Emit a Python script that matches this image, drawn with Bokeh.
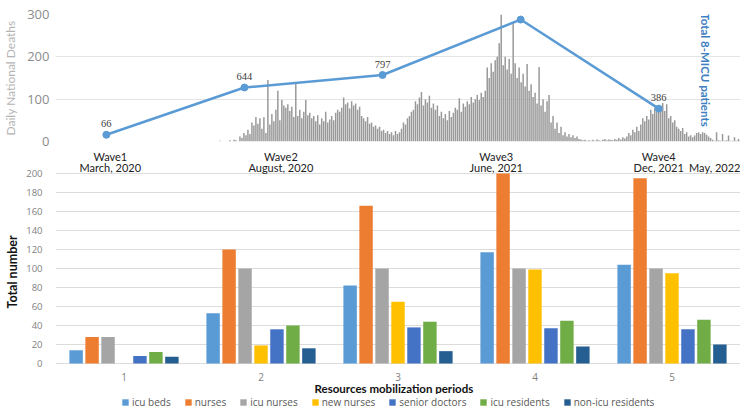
import math
from bokeh.plotting import figure
from bokeh.models import (Range1d, FixedTicker, Label, LabelSet, ColumnDataSource,
                          Legend, LegendItem)
from bokeh.core.properties import value
from bokeh.layouts import column
from bokeh.transform import dodge
from bokeh.embed import file_html
from bokeh.resources import INLINE

# ---------------- data ----------------
waves = [1, 2, 3, 4, 5]
micu_patients = [66, 644, 797, 1475, 386]
micu_labels = ["66", "644", "797", "1 475", "386"]

daily_deaths = [
    0, 0, 2, 0, 0, 0, 0, 3, 0, 4,
    3, 0, 12, 8, 20, 15, 28, 18, 45, 38,
    58, 42, 55, 30, 57, 20, 145, 40, 65, 48,
    75, 120, 50, 98, 85, 80, 88, 72, 82, 58,
    139, 60, 75, 55, 70, 98, 62, 68, 55, 60,
    48, 62, 40, 55, 48, 70, 45, 52, 60, 50,
    68, 75, 70, 80, 104, 88, 92, 78, 95, 85,
    90, 75, 82, 60, 55, 48, 58, 42, 45, 35,
    38, 30, 35, 25, 28, 20, 25, 18, 22, 15,
    25, 18, 22, 30, 45, 40, 55, 60, 70, 75,
    95, 88, 104, 117, 85, 100, 92, 108, 80, 90,
    75, 85, 60, 70, 55, 65, 50, 72, 58, 68,
    80, 75, 102, 70, 90, 82, 95, 88, 105, 92,
    100, 110, 98, 115, 105, 120, 175, 150, 185, 165,
    192, 200, 232, 310, 180, 200, 170, 195, 160, 280,
    185, 150, 175, 140, 160, 130, 183, 120, 135, 105,
    115, 90, 176, 85, 100, 70, 95, 110, 45, 60,
    30, 45, 20, 35, 15, 22, 12, 18, 10, 15,
    8, 12, 6, 5, 3, 4, 2, 3, 2, 4,
    2, 5, 3, 2, 4, 6, 3, 5, 4, 3,
    6, 4, 8, 5, 10, 7, 12, 20, 15, 28,
    22, 35, 25, 40, 55, 48, 60, 52, 75, 65,
    80, 70, 85, 78, 91, 72, 88, 55, 60, 45,
    50, 35, 30, 25, 32, 18, 22, 12, 15, 10,
    14, 20, 22, 18, 22, 20, 16, 12, 8, 4,
    2, 22, 3, 2, 18, 2, 3, 14, 2, 2, 10, 2, 6, 2,
]
death_ticks = [0, 100, 200, 300]

wave_names = ["Wave1", "Wave2", "Wave3", "Wave4"]
wave_dates = ["March, 2020", "August, 2020", "June, 2021", "Dec, 2021", "May, 2022"]

periods = [1, 2, 3, 4, 5]
period_labels = ["1", "2", "3", "4", "5"]
series_names = ["icu beds", "nurses", "icu nurses", "new nurses",
                "senior doctors", "icu residents", "non-icu residents"]
icu_beds = [14, 53, 82, 117, 104]
nurses = [28, 120, 166, 200, 195]
icu_nurses = [28, 100, 100, 100, 100]
new_nurses = [0, 19, 65, 99, 95]
senior_doctors = [8, 36, 38, 37, 36]
icu_residents = [12, 40, 44, 45, 46]
non_icu_residents = [7, 16, 13, 18, 20]
total_ticks = [0, 20, 40, 60, 80, 100, 120, 140, 160, 180, 200]

series_values = [icu_beds, nurses, icu_nurses, new_nurses,
                 senior_doctors, icu_residents, non_icu_residents]
series_colors = ["#5B9BD5", "#ED7D31", "#A5A5A5", "#FFC000",
                 "#4472C4", "#70AD47", "#255E91"]

W = 748
SANS = "Open Sans"
CAL = "Lato"


def bare_axis(ax):
    ax.axis_line_color = None
    ax.major_tick_line_color = None
    ax.minor_tick_line_color = None
    ax.major_tick_out = 0
    ax.major_tick_in = 0
    ax.minor_tick_out = 0
    ax.minor_tick_in = 0


# ---------------- top chart (page y 0..149, frame 14..141) ----------------
top = figure(width=W, height=149, output_backend="svg", toolbar_location=None,
             x_range=Range1d(0.6318, 5.592), y_range=Range1d(0, 300),
             min_border_left=53, min_border_right=8, min_border_top=14,
             min_border_bottom=8)
top.extra_x_ranges = {"days": Range1d(-80.5, 263)}
top.extra_y_ranges = {"micu": Range1d(-16, 1537)}
top.outline_line_color = None
top.xaxis.visible = False
top.xgrid.visible = False
top.ygrid.ticker = FixedTicker(ticks=death_ticks)
top.ygrid.grid_line_color = "#E4E4E4"
top.yaxis.ticker = FixedTicker(ticks=death_ticks)
bare_axis(top.yaxis[0])
top.yaxis.major_label_standoff = 6
top.yaxis.major_label_text_font = SANS
top.yaxis.major_label_text_font_size = "13px"
top.yaxis.major_label_text_color = "#8C8C8C"
top.yaxis.axis_label = "Daily National Deaths"
top.yaxis.axis_label_standoff = 6
top.yaxis.axis_label_text_font = CAL
top.yaxis.axis_label_text_font_style = "normal"
top.yaxis.axis_label_text_font_size = "12px"
top.yaxis.axis_label_text_color = "#B4B4B4"

day_idx = list(range(len(daily_deaths)))
top.vbar(x=day_idx, top=daily_deaths, width=0.75, x_range_name="days",
         fill_color="#999999", line_color=None)

top.line(x=waves, y=micu_patients, y_range_name="micu",
         line_color="#5B9BD5", line_width=2.5)
top.scatter(x=waves, y=micu_patients, y_range_name="micu", size=7,
            fill_color="#5B9BD5", line_color="#5B9BD5")
lab_src = ColumnDataSource(dict(x=waves, y=micu_patients, t=micu_labels))
top.add_layout(LabelSet(x="x", y="y", text="t", source=lab_src, y_range_name="micu",
                        y_offset=11, text_align="center", text_baseline="middle",
                        text_font=SANS, text_font_size="10.5px", text_color="#404040"))

top.add_layout(Label(x=5.339, y=169, text="Total 8-MICU patients", angle=-math.pi / 2,
                     text_align="center", text_baseline="middle", text_font=CAL,
                     text_font_style="bold", text_font_size="11.5px",
                     text_color="#3E80C2"))

# ---------------- bottom chart (page y 149..394) ----------------
# value 0 at page y=363, 0.95 px per unit
bot = figure(width=W, height=245, output_backend="svg", toolbar_location=None,
             x_range=Range1d(0.5, 5.5), y_range=Range1d(-32.63, 225.26),
             min_border_left=53, min_border_right=8, min_border_top=0,
             min_border_bottom=0)
bot.outline_line_color = None
bot.xaxis.visible = False
bot.xgrid.visible = False
bot.ygrid.ticker = FixedTicker(ticks=total_ticks)
bot.ygrid.grid_line_color = "#DCDCDC"
bot.yaxis.ticker = FixedTicker(ticks=total_ticks)
bare_axis(bot.yaxis[0])
bot.yaxis.major_label_standoff = 13
bot.yaxis.major_label_text_font = SANS
bot.yaxis.major_label_text_font_size = "9.5px"
bot.yaxis.major_label_text_color = "#7F7F7F"
bot.yaxis.axis_label = "Total number"
bot.yaxis.axis_label_standoff = 3
bot.yaxis.axis_label_text_font = CAL
bot.yaxis.axis_label_text_font_style = "bold"
bot.yaxis.axis_label_text_font_size = "12.5px"
bot.yaxis.axis_label_text_color = "#111111"

src = ColumnDataSource(dict(period=periods,
                            **{f"s{j}": v for j, v in enumerate(series_values)}))
pitch = 0.1165
for j, col in enumerate(series_colors):
    bot.vbar(x=dodge("period", (j - 3) * pitch, range=bot.x_range), top=f"s{j}",
             bottom=0, width=0.098, source=src, fill_color=col, line_color=None)

bot.text(x=periods, y=[-14.7] * len(periods), text=period_labels,
         text_align="center", text_baseline="middle", text_font=value(SANS),
         text_font_size="10px", text_color="#7F7F7F")
bot.text(x=[2.97], y=[-26.3], text=["Resources mobilization periods"],
         text_align="center", text_baseline="middle", text_font=value(CAL),
         text_font_style="bold", text_font_size="11.5px", text_color="#111111")

wave_x = [0.900, 2.145, 3.717, 4.903]
bot.text(x=wave_x, y=[217.6] * 4, text=wave_names, text_align="center",
         text_baseline="middle", text_font=value(CAL), text_font_size="11px",
         text_color="#222222")
bot.text(x=wave_x, y=[206.0] * 4, text=wave_dates[:4], text_align="center",
         text_baseline="middle", text_font=value(CAL), text_font_size="11px",
         text_color="#222222")
bot.text(x=[5.5], y=[206.0], text=[wave_dates[4]], text_align="right",
         text_baseline="middle", text_font=value(CAL), text_font_size="11px",
         text_color="#222222")

# ---------------- legend strip (page y 394..410) ----------------
leg = figure(width=W, height=16, output_backend="svg", toolbar_location=None,
             x_range=Range1d(0.5, 5.5), y_range=Range1d(0, 16),
             min_border_left=53, min_border_right=8, min_border_top=0,
             min_border_bottom=0)
leg.outline_line_color = None
leg.axis.visible = False
leg.grid.visible = False
items = []
for j, (name, col) in enumerate(zip(series_names, series_colors)):
    r = leg.vbar(x=dodge("period", (j - 3) * pitch, range=leg.x_range), top=f"s{j}",
                 bottom=0, width=0.098, source=src, fill_color=col, line_color=None,
                 visible=False)
    items.append(LegendItem(label=name, renderers=[r]))
legend = Legend(items=items, orientation="horizontal", location=(66, 1),
                glyph_width=8, glyph_height=8, label_standoff=3, spacing=13,
                padding=0, margin=0, border_line_color=None,
                background_fill_alpha=0, inactive_fill_alpha=0,
                label_text_font=SANS, label_text_font_size="10px",
                label_text_color="#595959", label_height=10)
leg.add_layout(legend)

layout = column(top, bot, leg, spacing=0)
open("out.html", "w").write(file_html(layout, INLINE))
